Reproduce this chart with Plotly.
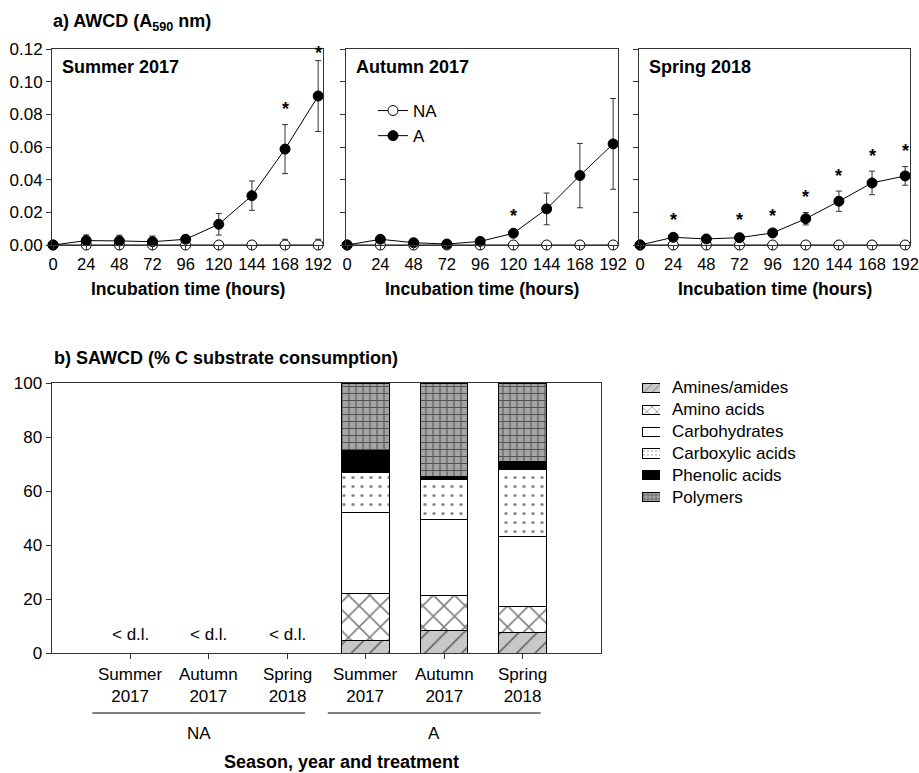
import plotly.graph_objects as go

# ---------------------------------------------------------------- data
hours = [0, 24, 48, 72, 96, 120, 144, 168, 192]
seasons = ["Summer 2017", "Autumn 2017", "Spring 2018"]

# AWCD (A590 nm), non-amended (NA) and amended (A) microcosms
summer_na = [0.0, 0.0, 0.0, 0.0, 0.0, 0.0, 0.0, 0.0, 0.0]
summer_na_err = [0.0, 0.001, 0.001, 0.001, 0.001, 0.001, 0.002, 0.0035, 0.0035]
summer_a = [0.0, 0.0027, 0.0025, 0.0020, 0.0035, 0.0127, 0.0302, 0.0587, 0.0912]
summer_a_err = [0.0, 0.0035, 0.0035, 0.0035, 0.0010, 0.0066, 0.0090, 0.0150, 0.0217]
summer_sig = [False, False, False, False, False, False, False, True, True]

autumn_na = [0.0, 0.0, 0.0, 0.0, 0.0, 0.0, 0.0, 0.0, 0.0]
autumn_na_err = [0.0, 0.001, 0.001, 0.001, 0.001, 0.001, 0.001, 0.001, 0.001]
autumn_a = [0.0, 0.0035, 0.0014, 0.0006, 0.0022, 0.0072, 0.0221, 0.0425, 0.0619]
autumn_a_err = [0.0, 0.0010, 0.0010, 0.0010, 0.0010, 0.0012, 0.0097, 0.0197, 0.0278]
autumn_sig = [False, False, False, False, False, True, False, False, False]

spring_na = [0.0, 0.0, 0.0, 0.0, 0.0, 0.0, 0.0, 0.0, 0.0]
spring_na_err = [0.0, 0.001, 0.001, 0.001, 0.001, 0.001, 0.001, 0.001, 0.001]
spring_a = [0.0, 0.0047, 0.0037, 0.0045, 0.0074, 0.0161, 0.0268, 0.0380, 0.0423]
spring_a_err = [0.0, 0.0010, 0.0010, 0.0010, 0.0010, 0.0038, 0.0062, 0.0072, 0.0057]
spring_sig = [False, True, False, True, True, True, True, True, True]

# SAWCD (% C substrate consumption); None = below detection limit
bar_seasons = ["Summer", "Autumn", "Spring", "Summer", "Autumn", "Spring"]
bar_years = ["2017", "2017", "2018", "2017", "2017", "2018"]
bar_treatment = ["NA", "NA", "NA", "A", "A", "A"]
amines = [None, None, None, 4.7, 8.2, 7.6]
amino_acids = [None, None, None, 17.5, 13.0, 9.7]
carbohydrates = [None, None, None, 29.9, 28.2, 26.0]
carboxylic = [None, None, None, 14.6, 14.8, 24.6]
phenolic = [None, None, None, 8.2, 1.2, 3.1]
polymers = [None, None, None, 25.1, 34.6, 29.0]

# ---------------------------------------------------------------- helpers
W, H = 919, 773
FONT = "Liberation Sans, Arial, sans-serif"
AX = "#333333"


def fx(p):
    return p / W


def fy(p):
    return 1 - p / H


def txt(size=17):
    return dict(family=FONT, size=size, color="black")


fig = go.Figure()

panels = [
    (summer_na, summer_na_err, summer_a, summer_a_err, summer_sig),
    (autumn_na, autumn_na_err, autumn_a, autumn_a_err, autumn_sig),
    (spring_na, spring_na_err, spring_a, spring_a_err, spring_sig),
]
x_domains = [(52, 323), (346, 618), (639, 910)]
YMAX = 0.12

annotations = []

for i, (na, na_err, a, a_err, sig) in enumerate(panels):
    xa = "x" if i == 0 else f"x{i + 1}"
    ya = "y" if i == 0 else f"y{i + 1}"
    fig.add_trace(go.Scatter(
        x=hours, y=na, mode="lines+markers", name="NA",
        error_y=dict(type="data", array=na_err, color=AX, thickness=1, width=3),
        line=dict(color="black", width=1),
        marker=dict(symbol="circle", size=10, color="white",
                    line=dict(color="black", width=1)),
        cliponaxis=False, xaxis=xa, yaxis=ya,
        legend="legend2", showlegend=(i == 1),
    ))
    fig.add_trace(go.Scatter(
        x=hours, y=a, mode="lines+markers", name="A",
        error_y=dict(type="data", array=a_err, color=AX, thickness=1, width=3),
        line=dict(color="black", width=1),
        marker=dict(symbol="circle", size=10, color="black",
                    line=dict(color="black", width=1)),
        cliponaxis=False, xaxis=xa, yaxis=ya,
        legend="legend2", showlegend=(i == 1),
    ))
    # significance asterisks above the error bars (kept inside the frame)
    for h, v, e, s in zip(hours, a, a_err, sig):
        if s:
            annotations.append(dict(
                x=h, y=min(v + e + 0.0095, YMAX - 0.0025), xref=xa, yref=ya,
                text="<b>*</b>", showarrow=False, xanchor="center", yanchor="middle",
                font=txt(18),
            ))
    x0, x1 = x_domains[i]
    annotations.append(dict(
        x=fx(x0 + 8), y=fy(67), xref="paper", yref="paper",
        text=f"<b>{seasons[i]}</b>", showarrow=False, xanchor="left", yanchor="middle",
        font=txt(18),
    ))
    annotations.append(dict(
        x=fx((x0 + x1) / 2), y=fy(289), xref="paper", yref="paper",
        text="<b>Incubation time (hours)</b>", showarrow=False,
        xanchor="center", yanchor="middle", font=txt(17.5),
    ))

# ---------------------------------------------------------------- stacked bars
cats = list(range(len(bar_seasons)))
bar_series = [
    ("Amines/amides", amines, "#c8c8c8", "/", 13, 0.12),
    ("Amino acids", amino_acids, "white", "x", 15, 0.2),
    ("Carbohydrates", carbohydrates, "white", "", 8, 0.3),
    ("Carboxylic acids", carboxylic, "white", ".", 9, 0.1),
    ("Phenolic acids", phenolic, "black", "", 8, 0.3),
    ("Polymers", polymers, "#a4a4a4", "+", 7, 0.28),
]
for name, vals, bg, shape, size, solid in bar_series:
    fig.add_trace(go.Bar(
        x=cats, y=vals, name=name, width=0.6,
        marker=dict(
            color=bg, line=dict(color="black", width=1),
            pattern=dict(shape=shape, fgcolor="black", bgcolor=bg, size=size,
                         solidity=solid, fillmode="overlay"),
        ),
        xaxis="x4", yaxis="y4", showlegend=False,
    ))

# legend key: small patterned swatches with their names
for row, (name, vals, bg, shape, size, solid) in enumerate(bar_series):
    fig.add_trace(go.Bar(
        x=[1], y=[row], base=[0], orientation="h", width=0.42, name=name,
        marker=dict(
            color=bg, line=dict(color="black", width=1),
            pattern=dict(shape=shape, fgcolor="black", bgcolor=bg,
                         size=max(4, size // 2), solidity=solid, fillmode="overlay"),
        ),
        xaxis="x5", yaxis="y5", showlegend=False, hoverinfo="skip",
    ))
    annotations.append(dict(x=fx(670), y=row, xref="paper", yref="y5", text=name,
                            showarrow=False, xanchor="left", yanchor="middle",
                            font=txt(17)))

# below detection limit labels
for c, v in zip(cats, amines):
    if v is None:
        annotations.append(dict(
            x=c, y=6.7, xref="x4", yref="y4", text="< d.l.", showarrow=False,
            xanchor="center", yanchor="middle", font=txt(17),
        ))

# two-line category labels
for c, s, yr in zip(cats, bar_seasons, bar_years):
    annotations.append(dict(x=c, y=fy(685), xref="x4", yref="paper",
                            text=f"{s}<br>{yr}", showarrow=False,
                            xanchor="center", yanchor="middle", font=txt(17)))

# treatment group brackets
shapes = []
for grp in ["NA", "A"]:
    idx = [c for c, t in zip(cats, bar_treatment) if t == grp]
    left, right = idx[0] - 0.48, idx[-1] + 0.23
    shapes.append(dict(type="line", xref="x4", yref="paper", x0=left, x1=right,
                       y0=fy(713), y1=fy(713), line=dict(color="black", width=1)))
    annotations.append(dict(x=(left + right) / 2, y=fy(733), xref="x4", yref="paper",
                            text=grp, showarrow=False, xanchor="center", yanchor="middle",
                            font=txt(17)))

annotations.append(dict(x=fx(222), y=fy(762), xref="paper", yref="paper",
                        text="<b>Season, year and treatment</b>", showarrow=False,
                        xanchor="left", yanchor="middle", font=txt(18)))

# panel headings
annotations.append(dict(x=fx(51), y=fy(23), xref="paper", yref="paper",
                        text="<b>a) AWCD (A<sub>590</sub> nm)</b>", showarrow=False,
                        xanchor="left", yanchor="middle", font=txt(18)))
annotations.append(dict(x=fx(52), y=fy(358), xref="paper", yref="paper",
                        text="<b>b) SAWCD (% C substrate consumption)</b>", showarrow=False,
                        xanchor="left", yanchor="middle", font=txt(18)))

# ---------------------------------------------------------------- axes
common_x = dict(range=[-0.8, 195.5], tickvals=hours, ticks="outside", ticklen=4,
                tickcolor=AX, showline=True, mirror=True, linecolor=AX, linewidth=1,
                showgrid=False, zeroline=False, tickfont=txt(16.5), automargin=False,
                ticklabeloverflow="allow")
common_y = dict(range=[0, YMAX], dtick=0.02, tickformat=".2f", ticks="outside",
                ticklen=5, tickcolor=AX, showline=True, mirror=True, linecolor=AX,
                linewidth=1, showgrid=False, zeroline=False, tickfont=txt(17),
                automargin=False, ticklabeloverflow="allow")

layout_axes = {}
for i, (x0, x1) in enumerate(x_domains):
    sfx = "" if i == 0 else str(i + 1)
    layout_axes[f"xaxis{sfx}"] = dict(common_x, domain=[fx(x0), fx(x1)],
                                      anchor=f"y{sfx}")
    layout_axes[f"yaxis{sfx}"] = dict(common_y, domain=[fy(245), fy(49)],
                                      anchor=f"x{sfx}", showticklabels=(i == 0))

layout_axes["xaxis4"] = dict(domain=[fx(51.5), fx(601)], anchor="y4", range=[-1, 6],
                             tickvals=cats, showticklabels=False, ticks="outside",
                             ticklen=5, tickcolor=AX, showline=True, mirror=True,
                             linecolor=AX, linewidth=1, showgrid=False, zeroline=False,
                             automargin=False)
layout_axes["yaxis4"] = dict(domain=[fy(653), fy(383)], anchor="x4", range=[0, 100],
                             dtick=20, ticks="outside", ticklen=5, tickcolor=AX,
                             showline=True, mirror=True, linecolor=AX, linewidth=1,
                             showgrid=False, zeroline=False, tickfont=txt(17),
                             automargin=False, ticklabeloverflow="allow")
# legend key axes (hidden)
layout_axes["xaxis5"] = dict(domain=[fx(642), fx(660)], anchor="y5", range=[0, 1],
                             visible=False, fixedrange=True)
layout_axes["yaxis5"] = dict(domain=[fy(508), fy(377)], anchor="x5", range=[5.5, -0.5],
                             visible=False, fixedrange=True)

fig.update_layout(
    width=W, height=H,
    margin=dict(l=0, r=0, t=0, b=0, pad=0, autoexpand=False),
    paper_bgcolor="white", plot_bgcolor="white",
    barmode="stack",
    font=txt(17),
    annotations=annotations,
    shapes=shapes,
    legend2=dict(x=fx(373), y=fy(93), xanchor="left", yanchor="top",
                 traceorder="normal", bgcolor="rgba(0,0,0,0)",
                 font=txt(17), itemwidth=30),
    **layout_axes,
)

fig.write_html("out.html")
